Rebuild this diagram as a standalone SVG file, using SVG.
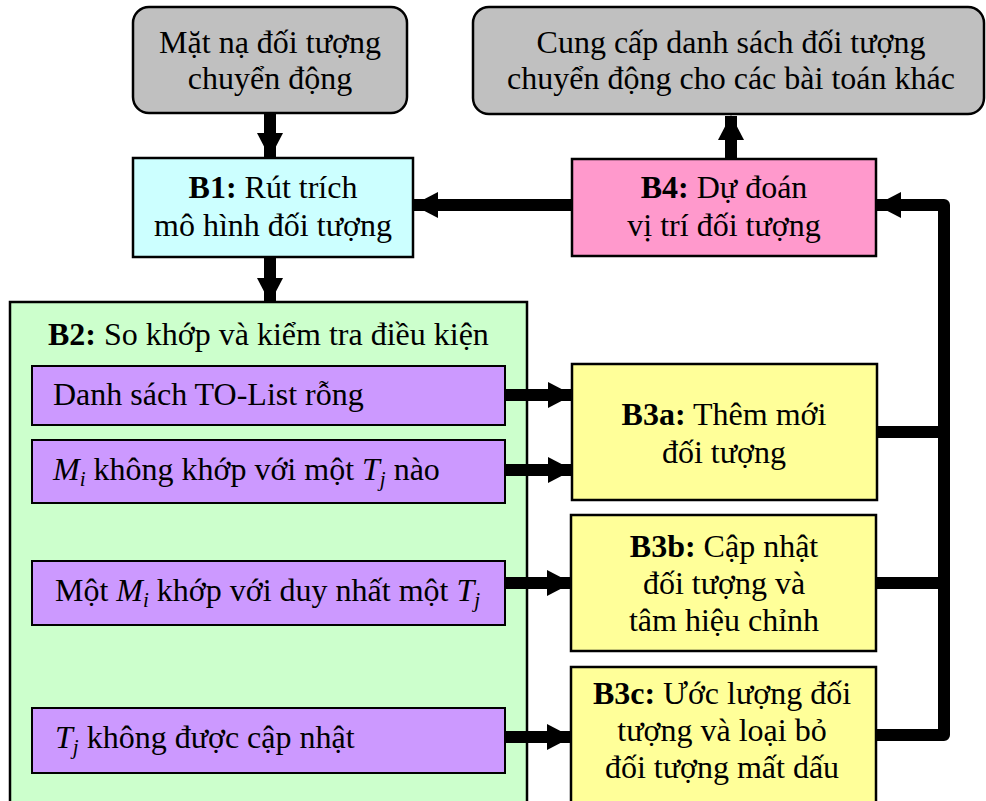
<svg xmlns="http://www.w3.org/2000/svg" width="986" height="801" viewBox="0 0 986 801">
<style>
text{font-family:'Liberation Serif','Times New Roman',serif;font-size:32px;fill:#000}
.c{text-anchor:middle}
.b{font-weight:bold}
.i{font-style:italic}
.sub{font-style:italic;font-size:21px}
.box{stroke:#000;stroke-width:2.5}
.pbox{fill:#CC99FF;stroke:#000;stroke-width:2}
.ybox{fill:#FFFF99;stroke:#000;stroke-width:2.5}
.conn{stroke:#000;stroke-width:12;fill:none}
</style>
<defs>
<marker id="ah" markerUnits="userSpaceOnUse" markerWidth="28" markerHeight="28" refX="24" refY="13" orient="auto">
<path d="M0,0 L25,13 L0,26 Z" fill="#000"/>
</marker>
</defs>
<rect width="986" height="801" fill="#fff"/>
<g id="B2">
<rect x="10" y="302" width="517" height="510" fill="#CCFFCC" class="box"/>
<text x="48" y="345"><tspan class="b">B2:</tspan> So khớp và kiểm tra điều kiện</text>
</g>
<g id="top-left">
<rect x="133" y="7" width="274" height="106" rx="16" fill="#C0C0C0" class="box"/>
<text class="c" x="270" y="53">Mặt nạ đối tượng</text>
<text class="c" x="270" y="89">chuyển động</text>
</g>
<g id="top-right">
<rect x="473" y="7" width="511" height="107" rx="16" fill="#C0C0C0" class="box"/>
<text class="c" x="731" y="53">Cung cấp danh sách đối tượng</text>
<text class="c" x="731" y="89">chuyển động cho các bài toán khác</text>
</g>
<g id="B1">
<rect x="133" y="158" width="280" height="99" fill="#CCFFFF" class="box"/>
<text class="c" x="273" y="198"><tspan class="b">B1:</tspan> Rút trích</text>
<text class="c" x="273" y="236">mô hình đối tượng</text>
</g>
<g id="B4">
<rect x="572" y="159" width="304" height="97" fill="#FF99CC" class="box"/>
<text class="c" x="724" y="198"><tspan class="b">B4:</tspan> Dự đoán</text>
<text class="c" x="724" y="236">vị trí đối tượng</text>
</g>
<g id="P1">
<rect x="32" y="366" width="473" height="59" class="pbox"/>
<text x="53" y="405">Danh sách TO-List rỗng</text>
</g>
<g id="P2">
<rect x="32" y="440" width="473" height="63" class="pbox"/>
<text x="53" y="480"><tspan class="i">M</tspan><tspan class="sub" dy="6">i</tspan><tspan dy="-6"> không khớp với một </tspan><tspan class="i">T</tspan><tspan class="sub" dy="6">j</tspan><tspan dy="-6"> nào</tspan></text>
</g>
<g id="P3">
<rect x="32" y="561" width="473" height="64" class="pbox"/>
<text x="55" y="601">Một <tspan class="i">M</tspan><tspan class="sub" dy="6">i</tspan><tspan dy="-6"> khớp với duy nhất một </tspan><tspan class="i">T</tspan><tspan class="sub" dy="6">j</tspan></text>
</g>
<g id="P4">
<rect x="32" y="708" width="473" height="65" class="pbox"/>
<text x="55" y="748"><tspan class="i">T</tspan><tspan class="sub" dy="6">j</tspan><tspan dy="-6"> không được cập nhật</tspan></text>
</g>
<g id="B3a">
<rect x="572" y="364" width="305" height="136" class="ybox"/>
<text class="c" x="724" y="425"><tspan class="b">B3a:</tspan> Thêm mới</text>
<text class="c" x="724" y="463">đối tượng</text>
</g>
<g id="B3b">
<rect x="571" y="515" width="305" height="136" class="ybox"/>
<text class="c" x="724" y="557"><tspan class="b">B3b:</tspan> Cập nhật</text>
<text class="c" x="724" y="594">đối tượng và</text>
<text class="c" x="724" y="631">tâm hiệu chỉnh</text>
</g>
<g id="B3c">
<rect x="571" y="667" width="305" height="145" class="ybox"/>
<text class="c" x="722" y="704"><tspan class="b">B3c:</tspan> Ước lượng đối</text>
<text class="c" x="722" y="741">tượng và loại bỏ</text>
<text class="c" x="722" y="778">đối tượng mất dấu</text>
</g>
<g id="connectors">
<line class="conn" x1="270" y1="113" x2="270" y2="157" marker-end="url(#ah)"/>
<line class="conn" x1="270" y1="257" x2="270" y2="302" marker-end="url(#ah)"/>
<line class="conn" x1="731" y1="159" x2="731" y2="116" marker-end="url(#ah)"/>
<line class="conn" x1="572" y1="205" x2="414" y2="205" marker-end="url(#ah)"/>
<line class="conn" x1="505" y1="395" x2="572" y2="395" marker-end="url(#ah)"/>
<line class="conn" x1="505" y1="470" x2="572" y2="470" marker-end="url(#ah)"/>
<line class="conn" x1="505" y1="583" x2="571" y2="583" marker-end="url(#ah)"/>
<line class="conn" x1="505" y1="737" x2="571" y2="737" marker-end="url(#ah)"/>
<path class="conn" stroke-linejoin="round" d="M877,432 H944"/>
<path class="conn" stroke-linejoin="round" d="M876,583 H944"/>
<path class="conn" stroke-linejoin="round" d="M876,735 H944 V205 H877" marker-end="url(#ah)"/>
</g>
</svg>
